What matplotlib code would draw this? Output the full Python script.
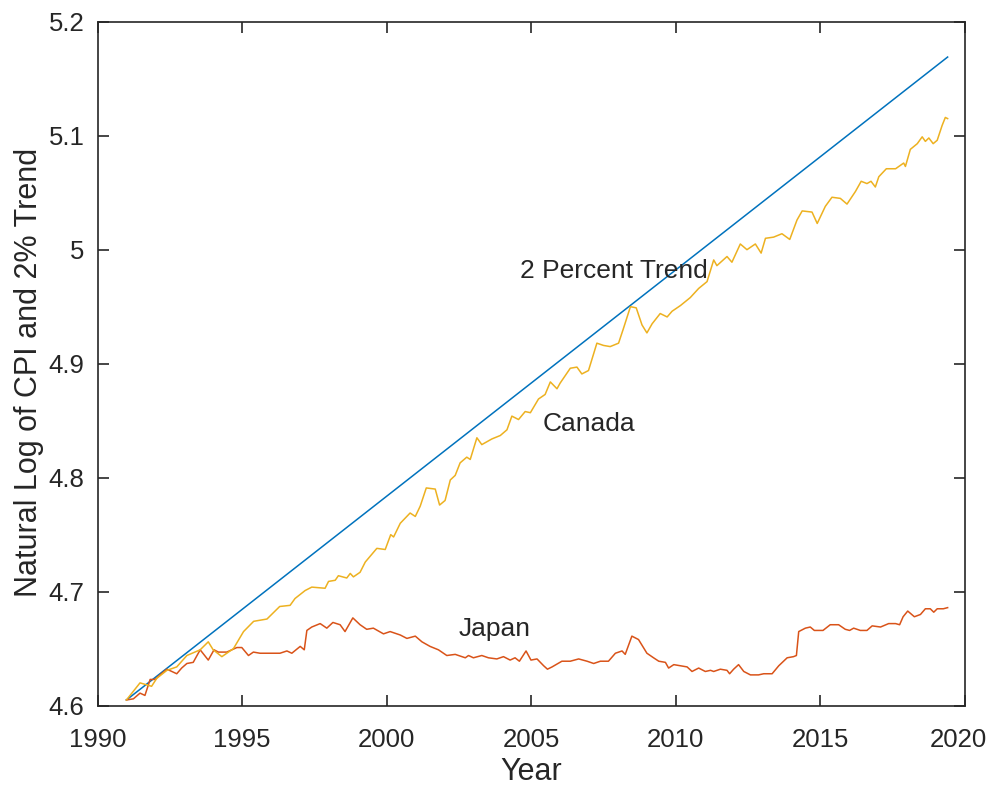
"""Log CPI for Canada and Japan against a 2 percent trend."""

import matplotlib as mpl
import matplotlib.pyplot as plt
from matplotlib.transforms import ScaledTranslation

mpl.rcParams["font.family"] = ["Liberation Sans", "DejaVu Sans"]

# %% data
trend_year = [1991.0, 2019.4]
trend_val = [4.605, 5.169]

canada_year = [
    1991.0, 1991.47, 1991.87, 1992.05, 1992.4, 1992.74, 1993.09, 1993.55,
    1993.83, 1994.0, 1994.3, 1994.7, 1995.05, 1995.4, 1995.86, 1996.3,
    1996.66, 1996.83, 1997.18, 1997.41, 1997.87, 1997.99, 1998.22, 1998.33,
    1998.62, 1998.74, 1998.85, 1999.08, 1999.26, 1999.66, 1999.95, 2000.14,
    2000.24, 2000.47, 2000.81, 2000.99, 2001.16, 2001.37, 2001.68, 2001.83,
    2002.02, 2002.2, 2002.37, 2002.54, 2002.77, 2002.89, 2003.12, 2003.29,
    2003.64, 2003.93, 2004.16, 2004.33, 2004.56, 2004.79, 2004.97, 2005.25,
    2005.48, 2005.66, 2005.89, 2006.0, 2006.35, 2006.58, 2006.75, 2006.98,
    2007.27, 2007.5, 2007.73, 2008.02, 2008.19, 2008.43, 2008.63, 2008.83,
    2009.0, 2009.18, 2009.46, 2009.7, 2009.87, 2010.16, 2010.5, 2010.79,
    2011.08, 2011.31, 2011.42, 2011.77, 2011.94, 2012.23, 2012.46, 2012.75,
    2012.95, 2013.1, 2013.38, 2013.67, 2013.94, 2014.19, 2014.37, 2014.71,
    2014.89, 2015.17, 2015.4, 2015.69, 2015.92, 2016.21, 2016.41, 2016.61,
    2016.75, 2016.9, 2017.02, 2017.28, 2017.6, 2017.88, 2017.94, 2018.11,
    2018.35, 2018.52, 2018.63, 2018.75, 2018.9, 2019.04, 2019.21, 2019.32,
    2019.4,
]
canada_val = [
    4.605, 4.620, 4.617, 4.624, 4.631, 4.634, 4.644, 4.649,
    4.656, 4.649, 4.643, 4.650, 4.665, 4.674, 4.676, 4.687,
    4.688, 4.694, 4.701, 4.704, 4.703, 4.709, 4.710, 4.714,
    4.712, 4.716, 4.713, 4.717, 4.726, 4.738, 4.737, 4.750,
    4.748, 4.760, 4.769, 4.766, 4.775, 4.791, 4.790, 4.776,
    4.780, 4.798, 4.802, 4.813, 4.818, 4.816, 4.835, 4.829,
    4.834, 4.837, 4.842, 4.854, 4.851, 4.858, 4.857, 4.869,
    4.873, 4.884, 4.878, 4.883, 4.896, 4.897, 4.891, 4.894,
    4.918, 4.916, 4.915, 4.918, 4.931, 4.950, 4.949, 4.934,
    4.927, 4.935, 4.944, 4.941, 4.946, 4.951, 4.958, 4.966,
    4.972, 4.991, 4.986, 4.994, 4.989, 5.005, 5.000, 5.005,
    4.997, 5.010, 5.011, 5.014, 5.009, 5.026, 5.034, 5.033,
    5.023, 5.038, 5.046, 5.045, 5.040, 5.051, 5.060, 5.058,
    5.060, 5.055, 5.064, 5.071, 5.071, 5.076, 5.073, 5.088,
    5.093, 5.099, 5.095, 5.098, 5.093, 5.096, 5.109, 5.116,
    5.115,
]

japan_year = [
    1991.0, 1991.24, 1991.47, 1991.64, 1991.82, 1991.99, 1992.16, 1992.4,
    1992.74, 1992.91, 1993.09, 1993.31, 1993.55, 1993.83, 1994.03, 1994.18,
    1994.47, 1994.82, 1994.99, 1995.22, 1995.39, 1995.62, 1995.97, 1996.31,
    1996.55, 1996.72, 1997.01, 1997.15, 1997.24, 1997.41, 1997.7, 1997.93,
    1998.14, 1998.39, 1998.56, 1998.83, 1999.08, 1999.31, 1999.54, 1999.89,
    2000.12, 2000.47, 2000.7, 2000.99, 2001.22, 2001.5, 2001.79, 2002.08,
    2002.37, 2002.72, 2002.83, 2003.0, 2003.29, 2003.52, 2003.81, 2004.04,
    2004.27, 2004.44, 2004.59, 2004.82, 2004.99, 2005.2, 2005.43, 2005.56,
    2005.72, 2006.06, 2006.35, 2006.64, 2006.93, 2007.16, 2007.39, 2007.67,
    2007.91, 2008.14, 2008.25, 2008.48, 2008.71, 2009.0, 2009.23, 2009.41,
    2009.64, 2009.75, 2009.93, 2010.16, 2010.39, 2010.56, 2010.79, 2011.02,
    2011.2, 2011.31, 2011.54, 2011.77, 2011.86, 2012.0, 2012.17, 2012.35,
    2012.58, 2012.86, 2013.04, 2013.33, 2013.56, 2013.85, 2014.07, 2014.17,
    2014.25, 2014.48, 2014.65, 2014.79, 2015.09, 2015.34, 2015.63, 2015.86,
    2016.01, 2016.15, 2016.38, 2016.61, 2016.79, 2017.08, 2017.36, 2017.6,
    2017.74, 2017.86, 2018.02, 2018.25, 2018.46, 2018.63, 2018.8, 2018.92,
    2019.04, 2019.25, 2019.4,
]
japan_val = [
    4.605, 4.606, 4.611, 4.609, 4.623, 4.623, 4.627, 4.632,
    4.628, 4.633, 4.637, 4.638, 4.649, 4.640, 4.649, 4.647,
    4.647, 4.651, 4.651, 4.644, 4.647, 4.646, 4.646, 4.646,
    4.648, 4.646, 4.652, 4.649, 4.666, 4.669, 4.672, 4.668,
    4.673, 4.671, 4.665, 4.677, 4.671, 4.667, 4.668, 4.663,
    4.665, 4.662, 4.659, 4.661, 4.656, 4.652, 4.649, 4.644,
    4.645, 4.642, 4.644, 4.642, 4.644, 4.642, 4.641, 4.643,
    4.640, 4.642, 4.639, 4.648, 4.640, 4.641, 4.635, 4.632,
    4.634, 4.639, 4.639, 4.641, 4.639, 4.637, 4.639, 4.639,
    4.646, 4.648, 4.645, 4.661, 4.658, 4.646, 4.642, 4.639,
    4.638, 4.633, 4.636, 4.635, 4.634, 4.630, 4.633, 4.630,
    4.631, 4.630, 4.632, 4.631, 4.628, 4.632, 4.636, 4.630,
    4.627, 4.627, 4.628, 4.628, 4.635, 4.642, 4.643, 4.644,
    4.665, 4.668, 4.669, 4.666, 4.666, 4.671, 4.671, 4.667,
    4.666, 4.668, 4.666, 4.666, 4.670, 4.669, 4.672, 4.672,
    4.671, 4.678, 4.683, 4.678, 4.680, 4.685, 4.685, 4.682,
    4.685, 4.685, 4.686,
]

x_ticks = [1990, 1995, 2000, 2005, 2010, 2015, 2020]
y_ticks = [4.6, 4.7, 4.8, 4.9, 5.0, 5.1, 5.2]
y_tick_labels = ["4.6", "4.7", "4.8", "4.9", "5", "5.1", "5.2"]

# %% figure
fig = plt.figure(figsize=(9.88, 7.86), dpi=100)
ax = fig.add_axes([0.0987, 0.1022, 0.878, 0.8702])

ax.plot(trend_year, trend_val, color="#0072BD", lw=1.1)
ax.plot(japan_year, japan_val, color="#D95319", lw=1.1)
ax.plot(canada_year, canada_val, color="#EDB120", lw=1.1)

ax.text(2007.87, 4.981, "2 Percent Trend", fontsize=19, color="#262626",
        ha="center", va="center")
ax.text(2007.0, 4.847, "Canada", fontsize=19, color="#262626",
        ha="center", va="center")
ax.text(2003.75, 4.667, "Japan", fontsize=19, color="#262626",
        ha="center", va="center")

ax.set_xlim(1990, 2020)
ax.set_ylim(4.6, 5.2)
ax.set_xticks(x_ticks)
ax.set_yticks(y_ticks)
ax.set_yticklabels(y_tick_labels)
ax.tick_params(direction="in", top=True, right=True, length=8, width=1.2,
               labelsize=18.5, colors="#262626")
ax.tick_params(axis="x", pad=16)
ax.tick_params(axis="y", pad=9.5)
for spine in ax.spines.values():
    spine.set_linewidth(1.2)
    spine.set_color("#262626")

# last year label nudged left so it stays inside the figure
last = ax.get_xticklabels()[-1]
last.set_transform(last.get_transform()
                   + ScaledTranslation(-7 / 100, 0, fig.dpi_scale_trans))

ax.set_xlabel("Year", fontsize=22, color="#262626", labelpad=3.5)
ax.set_ylabel("Natural Log of CPI and 2% Trend", fontsize=22,
              color="#262626")
ax.yaxis.set_label_coords(-0.0617, 0.4868)

fig.savefig("out.png", dpi=100)
